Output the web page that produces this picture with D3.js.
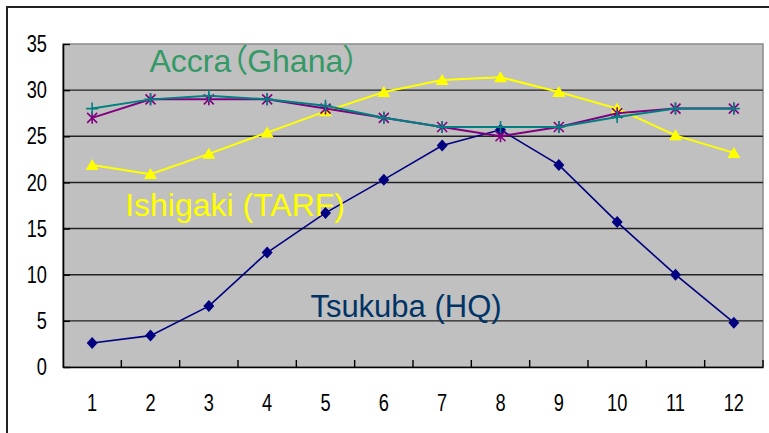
<!DOCTYPE html>
<html>
<head>
<meta charset="utf-8">
<script src="https://cdn.jsdelivr.net/npm/d3@7"></script>
<style>
  body { margin: 0; background: #fff; }
  .tick text { font-family: "Liberation Sans", sans-serif; font-size: 24px; fill: #000; }
  .lbl { font-family: "Liberation Sans", "Noto Sans CJK JP", sans-serif; font-feature-settings: "palt"; }
</style>
</head>
<body>
<div class="chart"></div>
<script>
var months = [1, 2, 3, 4, 5, 6, 7, 8, 9, 10, 11, 12];
var tsukuba = [2.6, 3.4, 6.6, 12.4, 16.7, 20.3, 24.0, 25.7, 21.9, 15.7, 10.0, 4.8];
var ishigaki = [21.9, 20.9, 23.1, 25.4, 27.7, 29.8, 31.1, 31.4, 29.8, 28.0, 25.1, 23.2];
var accraA = [27.0, 29.0, 29.0, 29.0, 28.0, 27.0, 26.0, 25.0, 26.0, 27.5, 28.0, 28.0];
var accraB = [28.0, 29.0, 29.4, 29.0, 28.3, 27.0, 26.0, 26.0, 26.0, 27.1, 28.0, 28.0];
var yTicks = [0, 5, 10, 15, 20, 25, 30, 35];

// label anchors in data units: [month position, value]
var labels = [
  {text: "Accra（Ghana）", m: 3.78, v: 32.0, color: "#339966", size: 32},
  {text: "Ishigaki (TARF)", m: 3.45, v: 16.4, color: "#ffff00", size: 32},
  {text: "Tsukuba (HQ)", m: 6.38, v: 5.4, color: "#003366", size: 31}
];

var W = 769, H = 433;
var pLeft = 63, pRight = 763, pTop = 44, pBottom = 367;
var squeeze = 0.76;

var svg = d3.select(".chart").append("svg")
    .attr("width", W)
    .attr("height", H);

// outer frame (left + top edges visible)
svg.append("path")
    .attr("d", "M7," + H + "V7H" + W)
    .style("fill", "none")
    .style("stroke", "#222")
    .style("stroke-width", 2);

var x = d3.scaleBand().domain(months).range([pLeft, pRight]);
var y = d3.scaleLinear().domain([0, 35]).range([pBottom, pTop]);
var xm = d3.scaleLinear().domain([0.5, 12.5]).range([pLeft, pRight]);

// plot background
svg.append("rect")
    .attr("x", pLeft).attr("y", pTop)
    .attr("width", pRight - pLeft).attr("height", pBottom - pTop)
    .style("fill", "#c0c0c0")
    .style("stroke", "#8a8a8a")
    .style("stroke-width", 1.5);

// gridlines
svg.append("g").selectAll("line")
    .data(yTicks.filter(d => d > 0 && d < 35))
    .enter().append("line")
        .attr("x1", pLeft).attr("x2", pRight)
        .attr("y1", d => y(d)).attr("y2", d => y(d))
        .style("stroke", "#222")
        .style("stroke-width", 1.4);

// y axis
var yAxis = svg.append("g")
    .attr("transform", "translate(" + pLeft + ",0)")
    .call(d3.axisLeft(y).tickValues(yTicks).tickSizeInner(-7).tickSizeOuter(0).tickPadding(16));
yAxis.select(".domain").style("stroke", "#000").style("stroke-width", 1.6);
yAxis.selectAll(".tick line").style("stroke", "#000").style("stroke-width", 1.4);
yAxis.selectAll(".tick text")
    .attr("x", -16 / squeeze)
    .attr("transform", "scale(" + squeeze + ",1)");

// x axis labels
var xAxis = svg.append("g")
    .attr("transform", "translate(0," + pBottom + ")")
    .call(d3.axisBottom(x).tickSize(0).tickPadding(27));
xAxis.select(".domain").style("stroke", "#000").style("stroke-width", 1.6);
xAxis.selectAll(".tick text")
    .attr("transform", "scale(" + squeeze + ",1)");

// x ticks between categories, pointing inward
svg.append("g").selectAll("line")
    .data(months)
    .enter().append("line")
        .attr("x1", d => x(d) + x.bandwidth()).attr("x2", d => x(d) + x.bandwidth())
        .attr("y1", pBottom).attr("y2", pBottom - 7)
        .style("stroke", "#000")
        .style("stroke-width", 1.4);

var line = d3.line()
    .x((d, i) => x(months[i]) + x.bandwidth() / 2)
    .y(d => y(d));

function drawSeries(vals, color, width) {
    svg.append("path")
        .datum(vals)
        .attr("d", line)
        .style("fill", "none")
        .style("stroke", color)
        .style("stroke-width", width);
}

function px(i) { return x(months[i]) + x.bandwidth() / 2; }

// Tsukuba
drawSeries(tsukuba, "#000080", 1.6);
svg.append("g").selectAll("path")
    .data(tsukuba)
    .enter().append("path")
        .attr("transform", (d, i) => "translate(" + px(i) + "," + y(d) + ")")
        .attr("d", "M0,-6L5.5,0L0,6L-5.5,0Z")
        .style("fill", "#000080");

// Ishigaki
drawSeries(ishigaki, "#ffff00", 2);
svg.append("g").selectAll("path")
    .data(ishigaki)
    .enter().append("path")
        .attr("transform", (d, i) => "translate(" + px(i) + "," + y(d) + ")")
        .attr("d", "M0,-6L6.5,5L-6.5,5Z")
        .style("fill", "#ffff00");

// Accra (purple, asterisk)
drawSeries(accraA, "#800080", 2);
svg.append("g").selectAll("path")
    .data(accraA)
    .enter().append("path")
        .attr("transform", (d, i) => "translate(" + px(i) + "," + y(d) + ")")
        .attr("d", "M-5,-5L5,5M-5,5L5,-5M0,-6V6")
        .style("fill", "none")
        .style("stroke", "#800080")
        .style("stroke-width", 1.6);

// Accra (teal, plus)
drawSeries(accraB, "#008080", 2);
svg.append("g").selectAll("path")
    .data(accraB)
    .enter().append("path")
        .attr("transform", (d, i) => "translate(" + px(i) + "," + y(d) + ")")
        .attr("d", "M0,-6V6M-6,0H6")
        .style("fill", "none")
        .style("stroke", "#008080")
        .style("stroke-width", 1.6);

// series labels
svg.append("g").selectAll("text")
    .data(labels)
    .enter().append("text")
        .attr("class", "lbl")
        .attr("x", d => xm(d.m))
        .attr("y", d => y(d.v))
        .attr("text-anchor", "middle")
        .style("font-size", d => d.size + "px")
        .style("fill", d => d.color)
        .text(d => d.text);
</script>
</body>
</html>
